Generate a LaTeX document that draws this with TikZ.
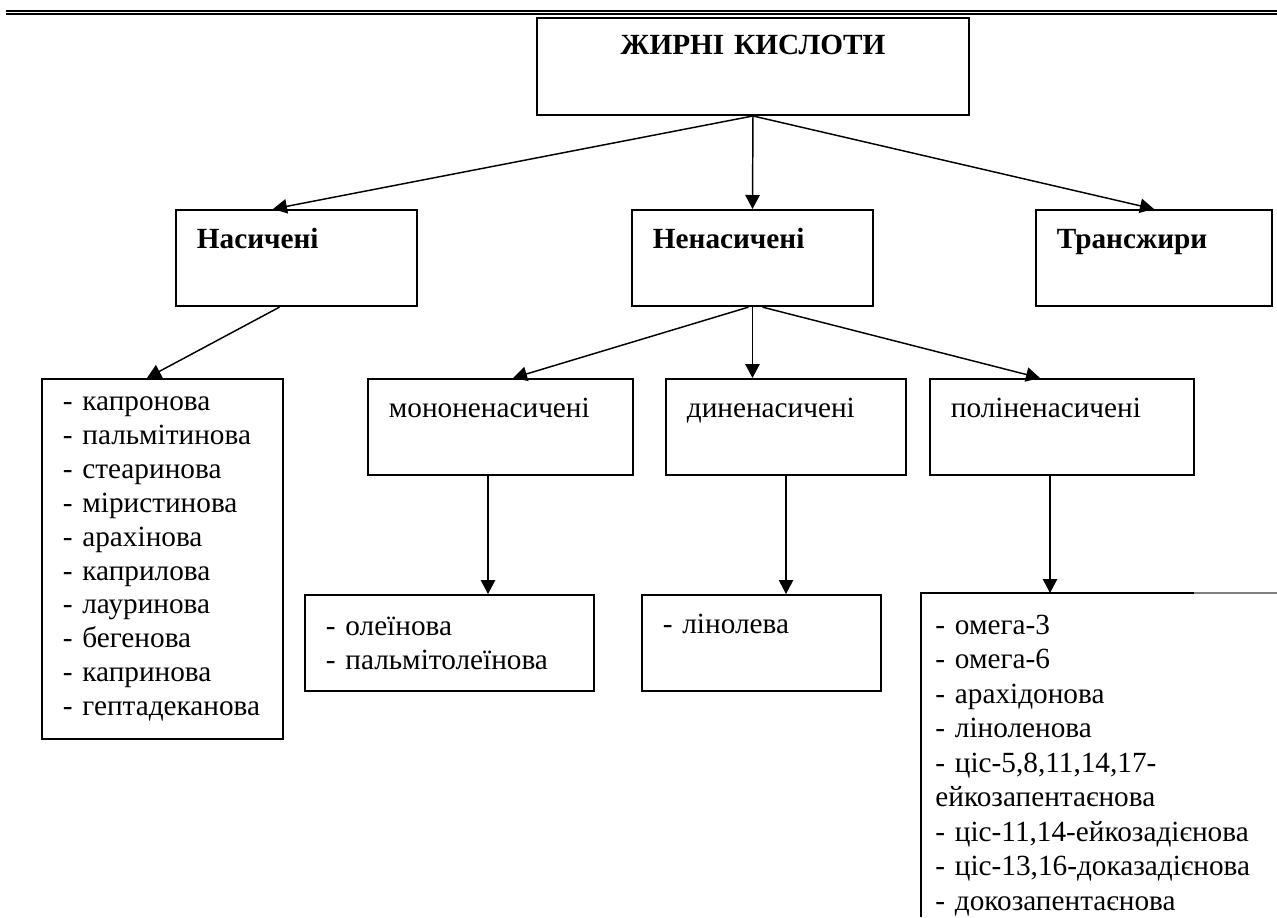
\documentclass[tikz,border=0pt]{standalone}
\usepackage{fontspec}
\setmainfont{Liberation Serif}
\usetikzlibrary{arrows.meta,calc}
\definecolor{ink}{HTML}{000000}
\definecolor{rule}{HTML}{808080}
\tikzset{
  frame/.style={draw=ink,line width=0.95pt,anchor=north west,inner xsep=10pt,inner ysep=0pt,align=left,text=ink,font=\fontsize{14}{16.2}\selectfont},
  headbox/.style={frame,text height=18.2pt,text depth=27.8pt},
  listbox/.style={frame},
  strong/.style={font=\fontsize{14}{16.2}\selectfont\bfseries},
  link/.style={-{Triangle[length=6.7pt,width=6.9pt]},line width=0.7pt,draw=ink},
}

\begin{document}
\begin{tikzpicture}[x=0.4785pt,y=-0.4785pt]
    \useasboundingbox (0,0) rectangle (1277,917);
    \draw[ink,line width=1pt] (6,11) -- (1277,11);
    \draw[ink,line width=0.5pt] (6,14) -- (1277,14);
    \node[headbox,strong,align=center,text width=186.7pt,text height=17.7pt,text depth=28.7pt] (fat) at (536,17) {ЖИРНІ КИСЛОТИ};
    \node[headbox,strong,text width=95.3pt] (sat) at (175,209) {Насичені};
    \node[headbox,strong,text width=95.3pt] (uns) at (631,209) {Ненасичені};
    \node[headbox,strong,text width=92.9pt] (trans) at (1035,209) {Трансжири};
    \node[listbox,text width=95.3pt,minimum height=172.3pt] (satlist) at (41,378) {- капронова\\- пальмітинова\\- стеаринова\\- міристинова\\- арахінова\\- каприлова\\- лауринова\\- бегенова\\- капринова\\- гептадеканова};
    \node[headbox,text width=106.8pt] (mono) at (367,378) {мононенасичені};
    \node[headbox,text width=94.8pt] (di) at (665,378) {диненасичені};
    \node[headbox,text width=106.3pt] (poly) at (929,378) {поліненасичені};
    \node[listbox,text width=118.3pt,minimum height=45.9pt] (olist) at (304,594) {- олеїнова\\- пальмітолеїнова};
    \node[headbox,text width=94.4pt] (lino) at (641,594) {- лінолева};
    \node[anchor=north west,inner xsep=6.7pt,inner ysep=0pt,align=left,text width=160pt,text height=19.6pt,font=\fontsize{14}{16.5}\selectfont] (plist) at (921,593) {- омега-3\\- омега-6\\- арахідонова\\- ліноленова\\- ціс-5,8,11,14,17-\\ейкозапентаєнова\\- ціс-11,14-ейкозадієнова\\- ціс-13,16-доказадієнова\\- докозапентаєнова};
    \draw[ink,line width=0.95pt] ($(plist.north west)+(0,324)$) -- (plist.north west) -- ++(273,0) coordinate (pedge);
    \draw[rule,line width=0.5pt] (pedge) -- (1277,593);
    \draw[link] (fat.south) -- ($(sat.north west)+(98,0)$);
    \draw[link] (fat.south) -- (uns.north);
    \draw[link] (fat.south) -- (trans.north);
    \draw[link] ($(sat.south)+(-17,0)$) -- ($(satlist.north west)+(106,0)$);
    \draw[link] ($(uns.south)+(-4,0)$) -- ($(mono.north west)+(146,0)$);
    \draw[link] (uns.south) -- (uns.south |- di.north);
    \draw[link] ($(uns.south)+(10,0)$) -- ($(poly.north west)+(111,0)$);
    \draw[link] ($(mono.south west)+(121,0)$) -- ($(olist.north west)+(184,0)$);
    \draw[link] ($(di.south west)+(121,0)$) -- ($(lino.north west)+(145,0)$);
    \draw[link] ($(poly.south west)+(121,0)$) -- ($(plist.north west)+(129,0)$);
  \end{tikzpicture}
\end{document}
